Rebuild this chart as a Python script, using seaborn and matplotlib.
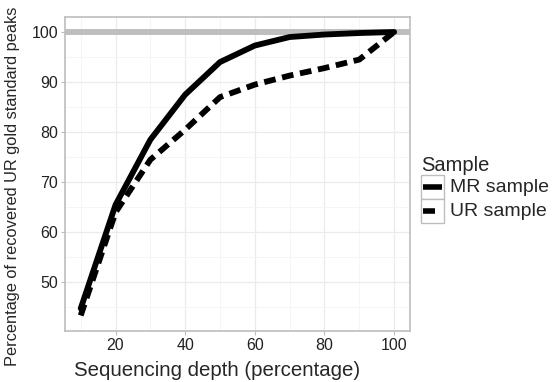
import pandas as pd
import matplotlib
matplotlib.use("Agg")
import matplotlib.pyplot as plt
import seaborn as sns
from matplotlib.ticker import MultipleLocator
from matplotlib.patches import Rectangle

depth = [10, 20, 30, 40, 50, 60, 70, 80, 90, 100]
mr_sample = [44.8, 65.5, 78.5, 87.5, 94.0, 97.3, 99.0, 99.5, 99.8, 100.0]
ur_sample = [43.4, 64.0, 74.5, 80.5, 87.0, 89.5, 91.3, 92.8, 94.5, 100.0]
samples = ["MR sample", "UR sample"]

df = pd.DataFrame({
    "depth": depth * 2,
    "pct": mr_sample + ur_sample,
    "Sample": [samples[0]] * len(depth) + [samples[1]] * len(depth),
})

sns.set_style("white")
plt.rcParams["font.family"] = ["Liberation Sans", "DejaVu Sans"]

W, H = 556, 382
fig = plt.figure(figsize=(W / 100, H / 100), dpi=100)
ax = fig.add_axes([0.117, 0.1335, 0.62, 0.822])

ax.axhline(100, color="#BEBEBE", lw=4.3, zorder=1)
sns.lineplot(data=df, x="depth", y="pct", style="Sample", color="black",
             dashes={samples[0]: "", samples[1]: (2.0, 1.15)},
             lw=4.2, ax=ax, legend=False, zorder=3)

ax.set_xlim(5.5, 104.5)
ax.set_ylim(40.3, 103)
ax.xaxis.set_major_locator(MultipleLocator(20))
ax.xaxis.set_minor_locator(MultipleLocator(10))
ax.set_yticks([50, 60, 70, 80, 90, 100])
ax.set_yticks([45, 55, 65, 75, 85, 95], minor=True)
ax.grid(True, which="major", color="#EBEBEB", lw=0.9, zorder=0)
ax.grid(True, which="minor", color="#F4F4F4", lw=0.6, zorder=0)
ax.set_axisbelow(True)
for s in ax.spines.values():
    s.set_color("#BDBDBD")
    s.set_linewidth(1.2)
ax.tick_params(axis="both", which="major", length=3, color="#BDBDBD",
               labelsize=11.5, labelcolor="#222222", pad=2, bottom=True, left=True)
ax.tick_params(which="minor", length=0)

ax.set_xlabel("Sequencing depth (percentage)", fontsize=14.7)
ax.xaxis.set_label_coords(0.44, -0.095)
ax.set_ylabel("Percentage of recovered UR gold standard peaks", fontsize=11.8)
ax.yaxis.set_label_coords(-0.13, 0.46)

# legend drawn by hand so the key boxes look like the reference
def fx(px):
    return px / W

def fy(py):
    return 1 - py / H

fig.text(fx(421), fy(171), "Sample", fontsize=14.5, ha="left", va="baseline")
for i, lab in enumerate(samples):
    top = 175 + 24 * i
    fig.patches.append(Rectangle((fx(421), fy(top + 24)), fx(23), 24 / H,
                                 transform=fig.transFigure, facecolor="white",
                                 edgecolor="#BDBDBD", lw=1.0))
    yc = fy(top + 12)
    x1 = 442 if i == 0 else 435
    fig.add_artist(plt.Line2D([fx(423), fx(x1)], [yc, yc], color="black",
                              lw=4.0, transform=fig.transFigure,
                              solid_capstyle="butt"))
    fig.text(fx(450), yc, lab, fontsize=14, ha="left", va="center")

fig.savefig("out.png", dpi=100)
